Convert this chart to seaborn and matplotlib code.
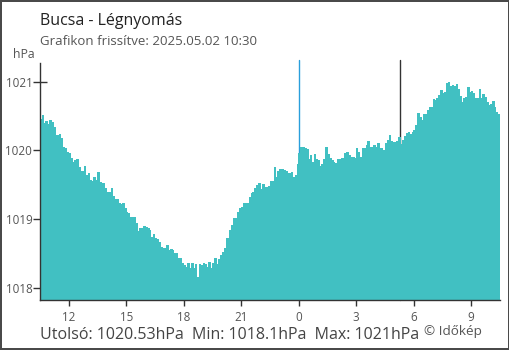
import numpy as np
import pandas as pd
import matplotlib
matplotlib.use("Agg")
import matplotlib.pyplot as plt
import seaborn as sns

# Air pressure (hPa), one value every 6 minutes, 2025.05.01 10:30 -> 2025.05.02 10:30
p_1030_1630 = [1020.46, 1020.51, 1020.40, 1020.43, 1020.38, 1020.44, 1020.41, 1020.34, 1020.22, 1020.22, 1020.24, 1020.18,
               1020.05, 1020.03, 1019.98, 1019.96, 1019.89, 1019.83, 1019.86, 1019.87, 1019.76, 1019.70, 1019.70, 1019.77,
               1019.64, 1019.67, 1019.57, 1019.55, 1019.61, 1019.57, 1019.68, 1019.54, 1019.52, 1019.52, 1019.45, 1019.39,
               1019.39, 1019.45, 1019.34, 1019.29, 1019.29, 1019.23, 1019.22, 1019.23, 1019.16, 1019.10, 1019.09, 1019.03,
               1019.03, 1019.03, 1018.94, 1018.83, 1018.87, 1018.87, 1018.90, 1018.88, 1018.87, 1018.84, 1018.74, 1018.78]
p_1630_2230 = [1018.72, 1018.71, 1018.67, 1018.59, 1018.58, 1018.58, 1018.62, 1018.55, 1018.56, 1018.55, 1018.51, 1018.51,
               1018.43, 1018.43, 1018.36, 1018.33, 1018.30, 1018.36, 1018.29, 1018.36, 1018.29, 1018.35, 1018.15, 1018.35,
               1018.33, 1018.36, 1018.35, 1018.30, 1018.37, 1018.29, 1018.36, 1018.43, 1018.35, 1018.42, 1018.48, 1018.52,
               1018.58, 1018.72, 1018.72, 1018.84, 1018.91, 1019.02, 1019.02, 1019.10, 1019.16, 1019.18, 1019.23, 1019.23,
               1019.23, 1019.32, 1019.38, 1019.39, 1019.45, 1019.50, 1019.52, 1019.44, 1019.51, 1019.47, 1019.47, 1019.48]
p_2230_0430 = [1019.55, 1019.55, 1019.76, 1019.61, 1019.70, 1019.73, 1019.73, 1019.71, 1019.70, 1019.67, 1019.67, 1019.68,
               1019.61, 1019.64, 1019.80, 1019.96, 1020.05, 1020.05, 1020.03, 1020.02, 1019.87, 1019.93, 1019.83, 1019.95,
               1019.87, 1019.86, 1019.77, 1019.80, 1019.87, 1020.05, 1019.95, 1019.89, 1019.86, 1019.83, 1019.82, 1019.87,
               1019.87, 1019.89, 1019.89, 1019.96, 1019.98, 1019.93, 1019.90, 1019.90, 1019.89, 1020.03, 1019.98, 1019.90,
               1020.03, 1020.03, 1020.08, 1020.14, 1020.05, 1020.05, 1020.08, 1020.05, 1020.11, 1020.03, 1020.03, 1020.01]
p_0430_1030 = [1020.11, 1020.15, 1020.22, 1020.14, 1020.12, 1020.12, 1020.14, 1020.19, 1020.09, 1020.15, 1020.21, 1020.25,
               1020.27, 1020.24, 1020.27, 1020.30, 1020.37, 1020.54, 1020.49, 1020.44, 1020.53, 1020.53, 1020.59, 1020.63,
               1020.63, 1020.75, 1020.73, 1020.76, 1020.81, 1020.88, 1020.84, 1020.85, 1020.98, 1021.00, 1020.94, 1020.95,
               1020.94, 1020.97, 1020.89, 1020.79, 1020.70, 1020.76, 1020.78, 1020.92, 1020.85, 1020.86, 1020.84, 1020.76,
               1020.76, 1020.89, 1020.76, 1020.82, 1020.78, 1020.70, 1020.66, 1020.68, 1020.72, 1020.63, 1020.56, 1020.53]

start_hour = 10.5          # 10:30 on 2025.05.01
step_hour = 0.1            # 6 minutes
midnight_hour = 24.0
sunrise_hour = 29.27       # 05:16 on 2025.05.02
x_ticks = [12, 15, 18, 21, 24, 27, 30, 33]
x_labels = ["12", "15", "18", "21", "0", "3", "6", "9"]
y_ticks = [1018, 1019, 1020, 1021]

title = "Bucsa - Légnyomás"
subtitle = "Grafikon frissítve: 2025.05.02 10:30"
unit = "hPa"
footer = "Utolsó: 1020.53hPa  Min: 1018.1hPa  Max: 1021hPa"
credit = "© Időkép"

fill_color = "#41c0c2"

pressure = p_1030_1630 + p_1630_2230 + p_2230_0430 + p_0430_1030
hours = start_hour + step_hour * (np.arange(len(pressure)) + 0.5)
df = pd.DataFrame({"hour": hours, "hPa": pressure})

sns.set_theme(style="white")
plt.rcParams["font.family"] = ["Open Sans", "DejaVu Sans"]

W, H = 510, 350
fig = plt.figure(figsize=(W / 100, H / 100), dpi=100, facecolor="white",
                 edgecolor="#4a4a4a", linewidth=1.5)
ax = fig.add_axes([40 / W, 50 / H, 460 / W, 237 / H])
ax.set_axisbelow(True)

ax.axvline(midnight_hour, ymin=0, ymax=1.013, color="#2a9fdc", lw=1.0, zorder=0.8, clip_on=False)
ax.axvline(sunrise_hour, ymin=0, ymax=1.013, color="#333333", lw=1.0, zorder=0.8, clip_on=False)

sns.barplot(data=df, x="hour", y="hPa", native_scale=True, color=fill_color,
            saturation=1, width=1.3, linewidth=0, antialiased=False,
            errorbar=None, ax=ax, zorder=1)

ax.set_xlim(start_hour, start_hour + 24)
ax.set_ylim(1017.821, 1021.272)
ax.set_xticks(x_ticks)
ax.set_xticklabels(x_labels)
ax.set_yticks(y_ticks)
ax.set_yticklabels([str(v) for v in y_ticks])
ax.set_xlabel("")
ax.set_ylabel("")

for s in ["top", "right"]:
    ax.spines[s].set_visible(False)
for s in ["left", "bottom"]:
    ax.spines[s].set_color("#333333")
    ax.spines[s].set_linewidth(1.0)
    ax.spines[s].set_zorder(3)

ax.tick_params(axis="y", direction="inout", length=10, width=1, color="#333333",
               labelsize=8.4, labelcolor="#555555", pad=0.5, left=True)
ax.tick_params(axis="x", direction="inout", length=8.6, width=1, color="#333333",
               labelsize=8.4, labelcolor="#555555", pad=3.5, bottom=True)
ax.xaxis.get_major_ticks()[x_ticks.index(midnight_hour)].tick1line.set_color("#2a9fdc")

def fx(px):
    return px / W

def fy(py):
    return 1 - py / H

fig.text(fx(40), fy(25), title, fontsize=11.5, color="#222222", va="baseline", ha="left")
fig.text(fx(40), fy(45), subtitle, fontsize=9.5, color="#555555", va="baseline", ha="left")
fig.text(fx(35), fy(58), unit, fontsize=8.8, color="#555555", va="baseline", ha="right")
fig.text(fx(40), fy(339), footer, fontsize=11.55, color="#444444", va="baseline", ha="left")
fig.text(fx(424), fy(335), credit, fontsize=9.7, color="#555555", va="baseline", ha="left")

fig.savefig("out.png", dpi=100)
